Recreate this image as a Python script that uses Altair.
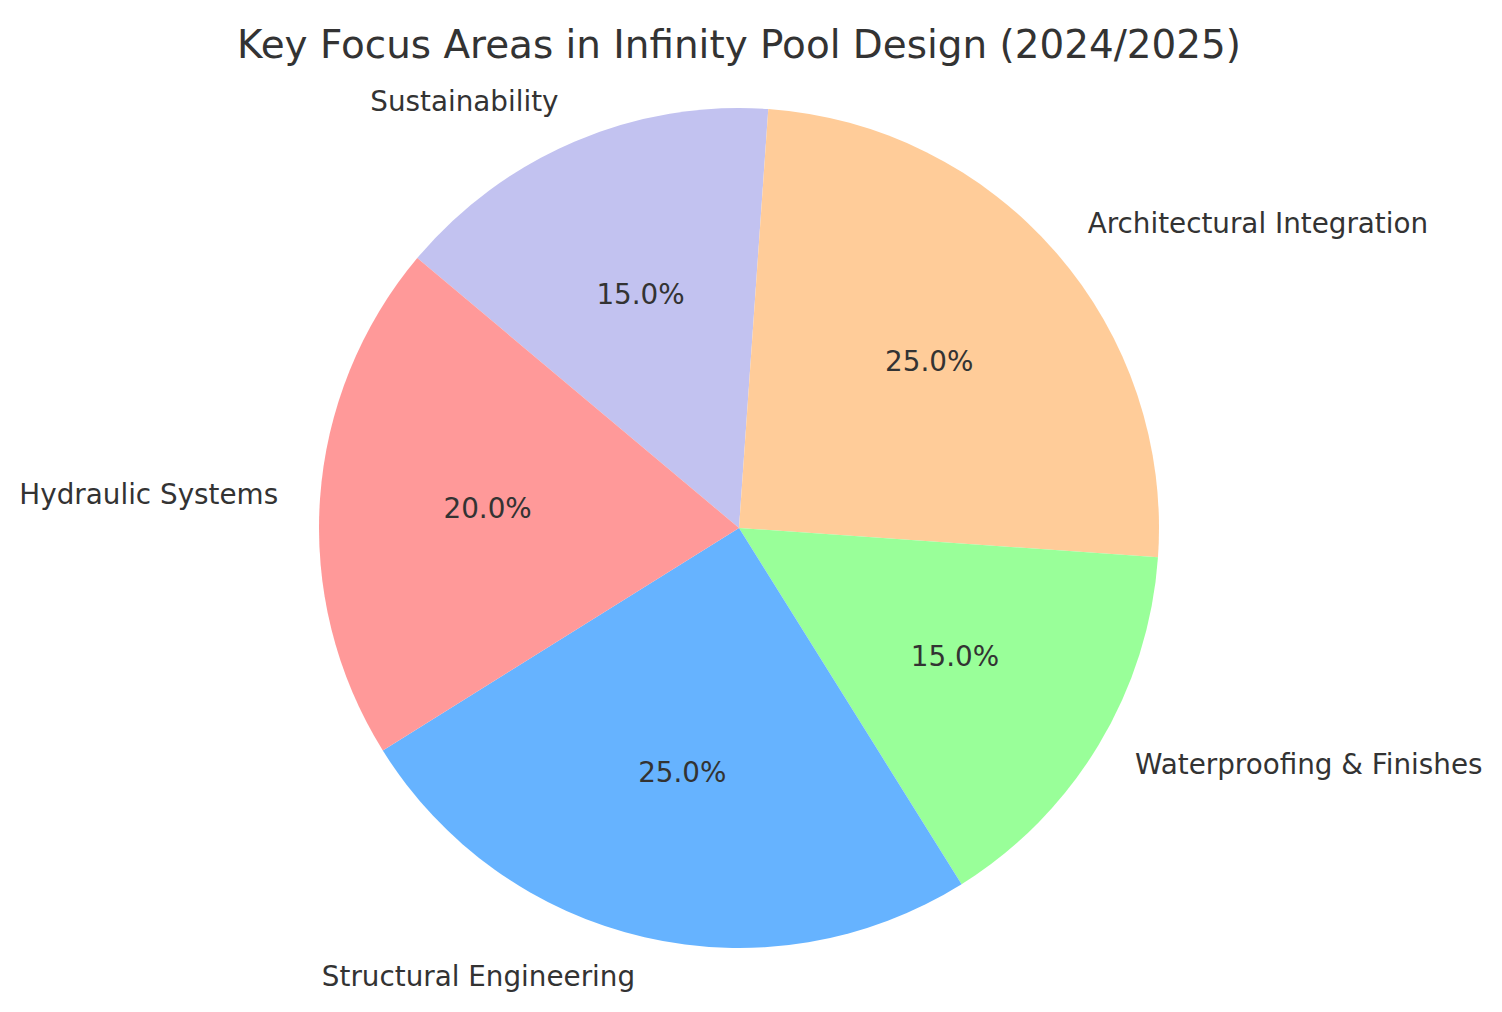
import altair as alt
import pandas as pd
import math

categories = ["Sustainability", "Architectural Integration", "Waterproofing & Finishes",
              "Structural Engineering", "Hydraulic Systems"]
values = [15, 25, 15, 25, 20]
colors = ["#c2c2f0", "#ffcc99", "#99ff99", "#66b3ff", "#ff9999"]

START_DEG = -50.0  # vega angle (clockwise from 12 o'clock) of first slice start
start = math.radians(START_DEG)

total = sum(values)
cum = 0
sides = []
for v in values:
    mid = START_DEG + (cum + v / 2) / total * 360.0
    sides.append("right" if math.sin(math.radians(mid)) > 0 else "left")
    cum += v

df = pd.DataFrame({
    "category": categories,
    "value": values,
    "idx": list(range(len(values))),
    "pct": [f"{v / total * 100:.1f}%" for v in values],
    "side": sides,
})

PAD_TOP = 74
CX, CY = 739, 528 - PAD_TOP
R = 420
FONT = "DejaVu Sans"
TXT = "#333333"

theta_scale = alt.Scale(domain=[0, total], range=[start, start + 2 * math.pi])

base = alt.Chart(df).transform_window(
    end="sum(value)", sort=[alt.SortField("idx")], frame=[None, 0]
).transform_calculate(
    begin="datum.end - datum.value",
    mid="datum.end - datum.value / 2",
).encode(
    x=alt.value(CX),
    y=alt.value(CY),
)

pie = base.mark_arc(outerRadius=R, stroke=None).encode(
    theta=alt.Theta("begin:Q", scale=theta_scale),
    theta2="end:Q",
    color=alt.Color("category:N", scale=alt.Scale(domain=categories, range=colors), legend=None),
)

txt_theta = alt.Theta("mid:Q", scale=theta_scale)

pct = base.mark_text(radius=R * 0.6, font=FONT, fontSize=27.8, color=TXT,
                     align="center", baseline="middle").encode(theta=txt_theta, text="pct:N")

lab_r = base.transform_filter(alt.datum.side == "right").mark_text(
    radius=R * 1.1, font=FONT, fontSize=27.8, color=TXT,
    align="left", baseline="middle").encode(theta=txt_theta, text="category:N")
lab_l = base.transform_filter(alt.datum.side == "left").mark_text(
    radius=R * 1.1, font=FONT, fontSize=27.8, color=TXT,
    align="right", baseline="middle").encode(theta=txt_theta, text="category:N")

chart = alt.layer(pie, pct, lab_r, lab_l).properties(
    width=1502, height=1012 - PAD_TOP,
    autosize=alt.AutoSizeParams(type="none"),
    padding={"top": PAD_TOP, "left": 0, "right": 0, "bottom": 0},
    title=alt.TitleParams("Key Focus Areas in Infinity Pool Design (2024/2025)",
                          font=FONT, fontSize=38.9, fontWeight="normal", color=TXT,
                          anchor="middle", frame="group", dx=-12, offset=8),
).configure_view(stroke=None)

chart.save("out.html", embed_options={"renderer": "svg", "actions": False})
